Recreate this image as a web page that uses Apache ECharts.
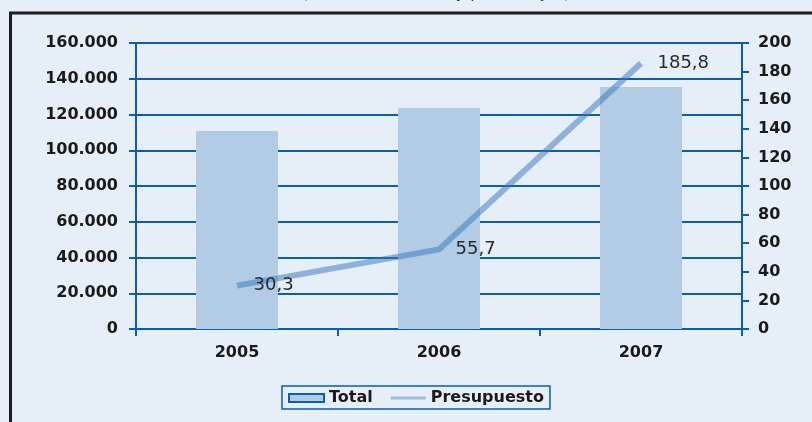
<!DOCTYPE html>
<html>
<head>
<meta charset="utf-8">
<title>Presupuesto</title>
<script src="https://cdn.jsdelivr.net/npm/echarts@6/dist/echarts.min.js"></script>
<style>
    html, body { margin: 0; padding: 0; background: #e6eef8; }
    #chart { width: 812px; height: 422px; }
</style>
</head>
<body>
<div id="chart"></div>
<script>
// Chart data
const years = ['2005', '2006', '2007'];
const totalValues = [110800, 123600, 135400];
const presupuestoValues = [30.3, 55.7, 185.8];
const leftTicks = { min: 0, max: 160000, interval: 20000 };
const rightTicks = { min: 0, max: 200, interval: 20 };

const blue = '#0b5eab';
const textColor = '#1a1a1a';
const fontFamily = 'DejaVu Sans';

document.addEventListener('DOMContentLoaded', function() {
    const chart = echarts.init(document.getElementById('chart'));

    function thousands(v) {
        return String(v).replace(/\B(?=(\d{3})+(?!\d))/g, '.');
    }

    const axisLabelStyle = {
        color: textColor,
        fontFamily: fontFamily,
        fontWeight: 'bold',
        fontSize: 16
    };

    chart.setOption({
        backgroundColor: '#e6eef8',
        animation: false,
        graphic: [
            {
                // frame around the chart (only top and left are in view)
                type: 'rect',
                shape: { x: 10.5, y: 13, width: 1000, height: 1000 },
                style: { fill: 'none', stroke: '#1e1e1e', lineWidth: 3 }
            },
            {
                // title, cut off by the top edge
                type: 'text',
                style: {
                    x: 436, y: 2,
                    text: '(En miles de euros y porcentajes)',
                    align: 'center',
                    verticalAlign: 'bottom',
                    font: '16px DejaVu Sans',
                    fill: '#333'
                }
            }
        ],
        grid: { left: 136, right: 70, top: 43, bottom: 93 },
        legend: {
            left: 282,
            top: 386,
            padding: [4, 6, 3, 6],
            borderColor: blue,
            borderWidth: 1.5,
            itemWidth: 35,
            itemHeight: 8,
            itemGap: 18,
            textStyle: {
                color: textColor,
                fontFamily: fontFamily,
                fontWeight: 'bold',
                fontSize: 16
            },
            data: [
                {
                    name: 'Total',
                    icon: 'rect',
                    itemStyle: { color: '#b1cce4', borderColor: blue, borderWidth: 2 }
                },
                {
                    name: 'Presupuesto',
                    icon: 'path://M0,0L38,0L38,3L0,3Z',
                    itemStyle: { color: '#9bbde0', borderWidth: 0, opacity: 1 }
                }
            ]
        },
        xAxis: {
            type: 'category',
            data: years,
            axisLine: { lineStyle: { color: blue, width: 2 } },
            axisTick: { show: true, length: 7, lineStyle: { color: blue, width: 2 } },
            axisLabel: Object.assign({ margin: 16 }, axisLabelStyle)
        },
        yAxis: [
            {
                type: 'value',
                min: leftTicks.min,
                max: leftTicks.max,
                interval: leftTicks.interval,
                axisLine: { show: true, lineStyle: { color: blue, width: 2 } },
                axisTick: { show: true, length: 7, lineStyle: { color: blue, width: 2 } },
                splitLine: { show: true, lineStyle: { color: blue, width: 2 } },
                axisLabel: Object.assign({ margin: 18, formatter: thousands }, axisLabelStyle)
            },
            {
                type: 'value',
                min: rightTicks.min,
                max: rightTicks.max,
                interval: rightTicks.interval,
                axisLine: { show: true, lineStyle: { color: blue, width: 2 } },
                axisTick: { show: true, length: 7, lineStyle: { color: blue, width: 2 } },
                splitLine: { show: false },
                axisLabel: Object.assign({ margin: 16 }, axisLabelStyle)
            }
        ],
        series: [
            {
                name: 'Total',
                type: 'bar',
                data: totalValues,
                barWidth: 82,
                itemStyle: { color: '#b1cce4' }
            },
            {
                name: 'Presupuesto',
                type: 'line',
                yAxisIndex: 1,
                data: presupuestoValues,
                symbol: 'circle',
                symbolSize: 1,
                itemStyle: { color: 'rgba(0,0,0,0)' },
                lineStyle: { color: 'rgba(50,118,188,0.5)', width: 6, cap: 'butt' },
                label: {
                    show: true,
                    position: 'right',
                    distance: 16,
                    color: '#2a2a2a',
                    fontFamily: fontFamily,
                    fontSize: 18,
                    formatter: function(p) {
                        return String(p.value).replace('.', ',');
                    }
                }
            }
        ]
    });
});
</script>
</body>
</html>
